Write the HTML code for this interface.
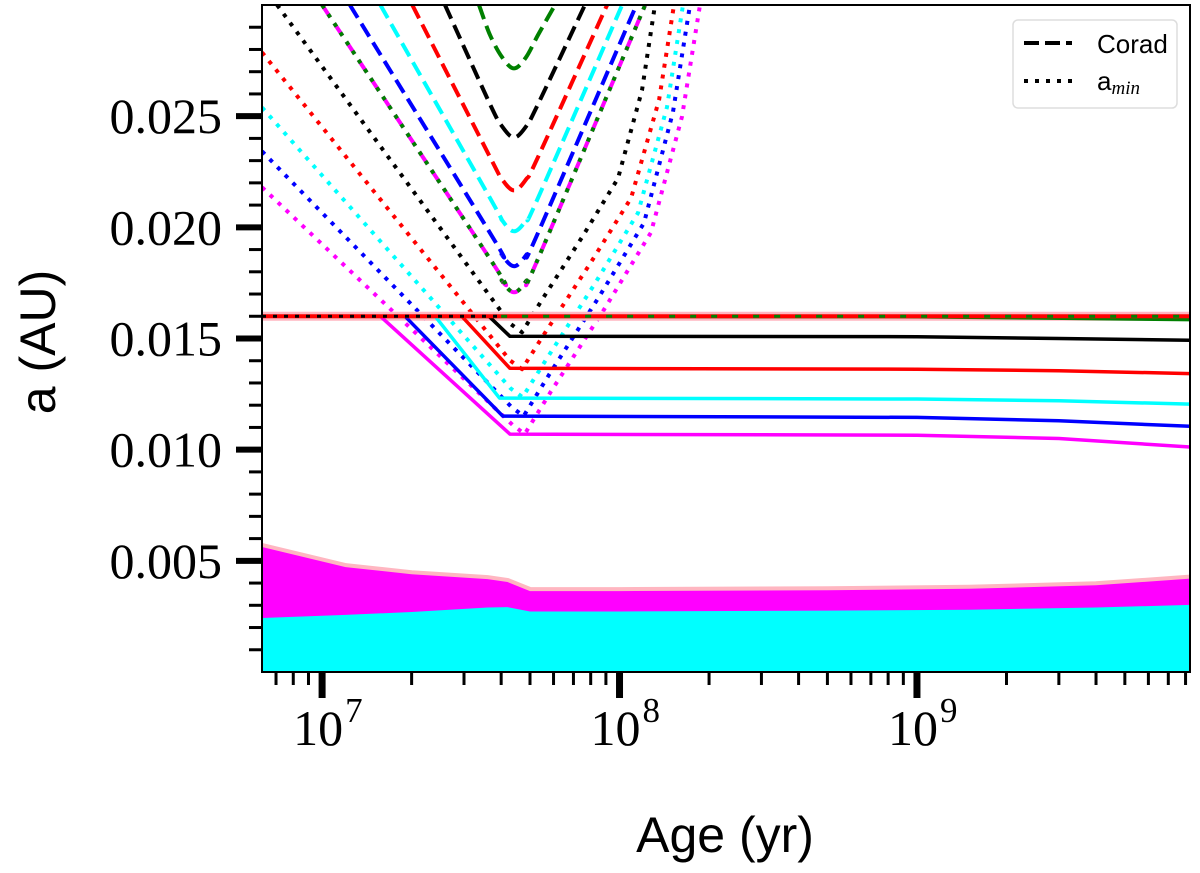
<!DOCTYPE html>
<html><head><meta charset="utf-8"><style>
html,body{margin:0;padding:0;background:#fff;}
svg{display:block;}
.serif{font-family:"Liberation Serif","DejaVu Serif",serif;}
.sans{font-family:"Liberation Sans","DejaVu Sans",sans-serif;}
</style></head><body>
<svg id="chart" width="1200" height="873" viewBox="0 0 1200 873" xmlns="http://www.w3.org/2000/svg">
<defs><clipPath id="plotclip"><rect x="262" y="5" width="928" height="667"/></clipPath></defs>
<g id="plot" clip-path="url(#plotclip)"></g>
<g id="axes"></g>
<rect x="262" y="5" width="928" height="667" fill="none" stroke="#000" stroke-width="2"/>
<g>
<rect x="1013" y="20" width="164" height="88" rx="5" fill="#fff" stroke="#ddd" stroke-width="1.5"/>
<line x1="1024" y1="43" x2="1072" y2="43" stroke="#000" stroke-width="4" stroke-dasharray="15 6"/>
<text x="1097" y="53" class="sans" font-size="26">Corad</text>
<line x1="1024" y1="81" x2="1072" y2="81" stroke="#000" stroke-width="4" stroke-dasharray="4 7"/>
<text x="1097" y="90" class="sans" font-size="26">a<tspan class="serif" font-style="italic" font-size="19" dy="4">min</tspan></text>
</g>
<text x="725" y="852" text-anchor="middle" class="sans" font-size="50">Age (yr)</text>
<text transform="translate(55,342) rotate(-90)" text-anchor="middle" class="sans" font-size="50">a (AU)</text>
</svg>
<script>
const xMin = 6.28e6, xMax = 8.28e9, yMin = 0, yMax = 0.030;
const yTickValues = [0.005, 0.010, 0.015, 0.020, 0.025];
const yTickLabels = ["0.005", "0.010", "0.015", "0.020", "0.025"];
const xTickExps = [7, 8, 9];

// filled bands (age, a)
const bandAges = [6.28e6, 1.2e7, 2.0e7, 3.6e7, 4.2e7, 5.0e7, 1.0e8, 5.0e8, 1.5e9, 4.0e9, 8.28e9];
const cyanTop = [0.00243, 0.00257, 0.00270, 0.00290, 0.00292, 0.00272, 0.00272, 0.00276, 0.00280, 0.00290, 0.00302];
const magentaTop = [0.00562, 0.00472, 0.00440, 0.00418, 0.00405, 0.00364, 0.00364, 0.00368, 0.00374, 0.00390, 0.00420];

// Corad dashed curves
const coradAges = {
  green:   [3.37e7, 3.67e7, 4.03e7, 4.42e7, 4.85e7, 5.32e7, 6.07e7],
  black:   [2.59e7, 3.67e7, 4.03e7, 4.42e7, 4.85e7, 5.32e7, 7.65e7],
  red:     [2.01e7, 3.67e7, 4.03e7, 4.42e7, 4.85e7, 5.32e7, 9.08e7],
  cyan:    [1.57e7, 3.67e7, 4.03e7, 4.42e7, 4.85e7, 5.32e7, 1.02e8],
  blue:    [1.24e7, 3.67e7, 4.03e7, 4.42e7, 4.85e7, 5.32e7, 1.14e8],
  magenta: [1.00e7, 3.67e7, 4.03e7, 4.42e7, 4.85e7, 5.32e7, 1.22e8]
};
const coradVals = {
  green:   [0.030, 0.02865, 0.02765, 0.02715, 0.02765, 0.02865, 0.030],
  black:   [0.030, 0.02554, 0.02454, 0.02404, 0.02454, 0.02554, 0.030],
  red:     [0.030, 0.02316, 0.02216, 0.02166, 0.02216, 0.02316, 0.030],
  cyan:    [0.030, 0.02132, 0.02032, 0.01982, 0.02032, 0.02132, 0.030],
  blue:    [0.030, 0.01975, 0.01875, 0.01825, 0.01875, 0.01975, 0.030],
  magenta: [0.030, 0.01858, 0.01758, 0.01708, 0.01758, 0.01858, 0.030]
};
// a_min dotted curves
const aminAges = {
  black:   [7.06e6, 4.28e7, 4.70e7, 5.49e7, 7.48e7, 9.88e7, 1.190e8, 1.316e8],
  red:     [6.28e6, 4.28e7, 4.70e7, 5.62e7, 7.96e7, 1.094e8, 1.358e8, 1.525e8],
  cyan:    [6.28e6, 4.30e7, 4.72e7, 5.71e7, 8.27e7, 1.154e8, 1.444e8, 1.635e8],
  blue:    [6.28e6, 4.34e7, 4.76e7, 5.79e7, 8.53e7, 1.209e8, 1.513e8, 1.726e8],
  magenta: [6.28e6, 4.38e7, 4.80e7, 5.89e7, 8.87e7, 1.276e8, 1.622e8, 1.865e8],
  green:   [1.00e7, 3.67e7, 4.03e7, 4.42e7, 4.85e7, 5.32e7, 1.22e8]
};
const aminVals = {
  black:   [0.030, 0.01568, 0.01528, 0.01675, 0.01955, 0.02220, 0.02617, 0.030],
  red:     [0.02787, 0.01402, 0.01362, 0.01526, 0.01837, 0.02132, 0.02574, 0.030],
  cyan:    [0.02539, 0.01276, 0.01236, 0.01412, 0.01748, 0.02065, 0.02541, 0.030],
  blue:    [0.02342, 0.01191, 0.01151, 0.01336, 0.01687, 0.02020, 0.02519, 0.030],
  magenta: [0.0218, 0.0111, 0.0107, 0.01263, 0.0163, 0.01977, 0.02498, 0.030],
  green:   [0.030, 0.01858, 0.01758, 0.01708, 0.01758, 0.01858, 0.030]
};
// solid orbit curves
const solidAges = {
  green:   [6.28e6, 1.0e9, 8.28e9],
  black:   [6.28e6, 3.64e7, 4.28e7, 1.0e9, 3.0e9, 8.28e9],
  red:     [6.28e6, 2.95e7, 4.28e7, 1.0e9, 3.0e9, 8.28e9],
  cyan:    [6.28e6, 2.40e7, 3.95e7, 1.0e9, 3.0e9, 8.28e9],
  blue:    [6.28e6, 1.90e7, 4.05e7, 1.0e9, 3.0e9, 8.28e9],
  magenta: [6.28e6, 1.57e7, 4.28e7, 1.0e9, 3.0e9, 8.28e9]
};
const solidVals = {
  green:   [0.0160, 0.01598, 0.01585],
  black:   [0.0160, 0.0160, 0.01510, 0.01508, 0.01500, 0.01492],
  red:     [0.0160, 0.0160, 0.01366, 0.01362, 0.01355, 0.01342],
  cyan:    [0.0160, 0.0160, 0.01232, 0.01228, 0.01220, 0.01205],
  blue:    [0.0160, 0.0160, 0.01151, 0.01145, 0.01130, 0.01105],
  magenta: [0.0160, 0.0160, 0.01070, 0.01065, 0.01050, 0.01012]
};
const mainLineAges = [6.28e6, 8.28e9];
const mainLineVals = [0.0160, 0.0160];

const colors = {green:"#008000", black:"#000000", red:"#ff0000", cyan:"#00ffff", blue:"#0000ff", magenta:"#ff00ff"};
const NS = "http://www.w3.org/2000/svg";
const L = 262, R = 1190, T = 5, B = 672;
function xs(v){ return L + (Math.log10(v) - Math.log10(xMin)) / (Math.log10(xMax) - Math.log10(xMin)) * (R - L); }
function ys(v){ return B - (v - yMin) / (yMax - yMin) * (B - T); }
const plot = document.getElementById('plot');
const axes = document.getElementById('axes');
function mk(tag, attrs, parent){
  const el = document.createElementNS(NS, tag);
  for (const k in attrs) el.setAttribute(k, attrs[k]);
  parent.appendChild(el);
  return el;
}
function pts(ages, vals){ return ages.map((a,i)=>xs(a).toFixed(1)+","+ys(vals[i]).toFixed(1)).join(" "); }
function smooth(ages, vals){
  const P = ages.map((a,i)=>[xs(a), ys(vals[i])]);
  let d = "M" + P[0][0].toFixed(1) + "," + P[0][1].toFixed(1);
  for (let i = 0; i < P.length - 1; i++){
    const p0 = P[Math.max(0,i-1)], p1 = P[i], p2 = P[i+1], p3 = P[Math.min(P.length-1,i+2)];
    const c1 = [p1[0] + (p2[0]-p0[0])/6, p1[1] + (p2[1]-p0[1])/6];
    const c2 = [p2[0] - (p3[0]-p1[0])/6, p2[1] - (p3[1]-p1[1])/6];
    d += " C" + c1[0].toFixed(1) + "," + c1[1].toFixed(1) + " " + c2[0].toFixed(1) + "," + c2[1].toFixed(1) + " " + p2[0].toFixed(1) + "," + p2[1].toFixed(1);
  }
  return d;
}

// bands
let p = "M" + xs(bandAges[0]) + "," + B + " L" + pts(bandAges, magentaTop).replace(/ /g," L") + " L" + xs(bandAges[bandAges.length-1]) + "," + B + " Z";
let pink = mk('polyline', {points: pts(bandAges, magentaTop), fill:"none", stroke:"#ffb6c1", "stroke-width":"8"}, plot);


let mag = mk('path', {d: p, fill:"#ff00ff"}, plot);


p = "M" + xs(bandAges[0]) + "," + B + " L" + pts(bandAges, cyanTop).replace(/ /g," L") + " L" + xs(bandAges[bandAges.length-1]) + "," + B + " Z";
let cy = mk('path', {d: p, fill:"#00ffff"}, plot);



// dotted a_min
["black","red","cyan","blue","magenta"].forEach(c=>{
  const el = mk('polyline', {points: pts(aminAges[c], aminVals[c]), fill:"none", stroke:colors[c], "stroke-width":"4", "stroke-dasharray":"4 7", "stroke-linejoin":"round"}, plot);
  
  
});
// dashed corad
["green","black","red","cyan","blue","magenta"].forEach(c=>{
  const el = mk('path', {d: smooth(coradAges[c], coradVals[c]), fill:"none", stroke:colors[c], "stroke-width":"4", "stroke-dasharray":"15 7"}, plot);
  
  
});
{
  const el = mk('path', {d: smooth(aminAges.green, aminVals.green), fill:"none", stroke:colors.green, "stroke-width":"4", "stroke-dasharray":"4 7"}, plot);
  
  
}
// solid lines
{
  const h = mk('polyline', {points: pts(mainLineAges, mainLineVals), fill:"none", stroke:"#ffb6c1", "stroke-width":"9"}, plot);
  
  
}
["green","magenta","blue","cyan","red","black"].forEach(c=>{
  const el = mk('polyline', {points: pts(solidAges[c], solidVals[c]), fill:"none", stroke:colors[c], "stroke-width":"3.5", "stroke-linejoin":"round"}, plot);
  
  
});
{
  const el = mk('polyline', {points: pts(mainLineAges, mainLineVals), fill:"none", stroke:"#ff0000", "stroke-width":"4"}, plot);
  
  
  const d1 = mk('line', {x1:L, y1:ys(0.016), x2:xs(4.0e7), y2:ys(0.016), stroke:"#000", "stroke-width":"3", "stroke-dasharray":"4 7"}, plot);
  
  
  const d2 = mk('line', {x1:xs(4.0e7), y1:ys(0.016), x2:R, y2:ys(0.016), stroke:"#008000", "stroke-width":"3", "stroke-dasharray":"6 15"}, plot);
  
  
}

// y ticks
for (let k = 1; k <= 29; k++){
  const v = k * 0.001;
  const major = (k % 5 === 0);
  const y = ys(v);
  const t = mk('line', {x1: major ? 236 : 249, y1:y, x2:L, y2:y, stroke:"#000", "stroke-width": major ? 6 : 3}, axes);
  
  
}
yTickValues.forEach((v,i)=>{
  const t = mk('text', {x:222, y:ys(v)+17, "text-anchor":"end", "font-size":"50", class:"serif"}, axes);
  t.textContent = yTickLabels[i];
  
  
});
// x ticks
for (let e = 6; e <= 9; e++){
  for (let m = 1; m <= 9; m++){
    const v = m * Math.pow(10, e);
    if (v < xMin || v > xMax) continue;
    const major = (m === 1);
    const x = xs(v);
    const t = mk('line', {x1:x, y1:B, x2:x, y2: major ? 698 : 685, stroke:"#000", "stroke-width": major ? 7 : 3}, axes);
    
    
  }
}
xTickExps.forEach(e=>{
  const x = xs(Math.pow(10, e));
  const t = mk('text', {x:x-4, y:745, "text-anchor":"middle", "font-size":"50", class:"serif"}, axes);
  t.textContent = "10";
  
  
  const s = mk('text', {x:x+23, y:722, "text-anchor":"start", "font-size":"35", class:"serif"}, axes);
  s.textContent = String(e);
  
  
});
</script>
</body></html>
